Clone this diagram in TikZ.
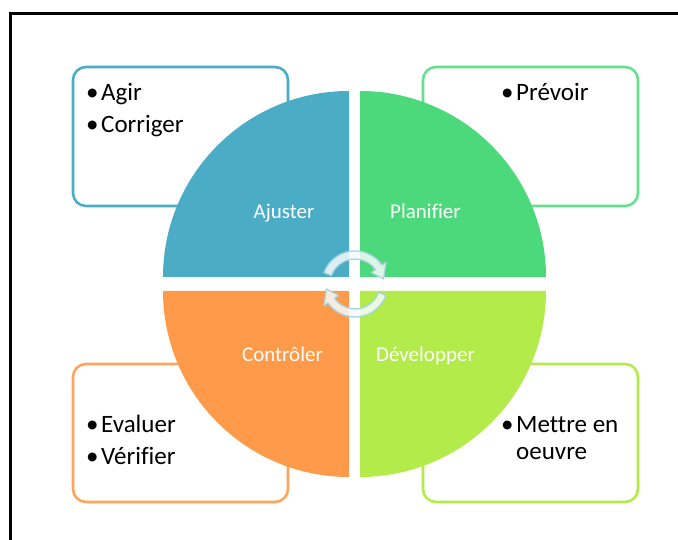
\documentclass[tikz,border=0pt]{standalone}
\usepackage{fontspec}
\setmainfont{Carlito}[Ligatures=NoCommon]
\usetikzlibrary{calc}
\definecolor{ajblue}{HTML}{4BACC6}
\definecolor{plgreen}{HTML}{4CD97B}
\definecolor{coorange}{HTML}{FF9A4A}
\definecolor{delime}{HTML}{B2EB4A}
\definecolor{cyclefill}{HTML}{F6FBFD}
\definecolor{cycleline}{HTML}{A8D4E2}
\newcommand{\puce}{\makebox[15pt][l]{•}}

\begin{document}
\begin{tikzpicture}[x=1pt, y=1pt,
    box/.style={draw=#1, line width=2.6pt, rounded corners=13pt, fill=white},
    quad/.style={anchor=base, text=white, font=\fontsize{21}{25}\selectfont},
    item/.style={anchor=base west, inner sep=0pt, text=black, font=\fontsize{25}{29}\selectfont}]
    \clip (0,0) rectangle (678,540);
    \fill[white] (0,0) rectangle (678,540);
    % outer frame
    \draw[line width=2.7pt] (690,526.5) -- (10.5,526.5) -- (10.5,-10);
    % boxes
    \draw[box=ajblue] (73,473) rectangle (288,334);
    \draw[box=plgreen!85!white] (423,473) rectangle (638,334);
    \draw[box=coorange!90!white] (73,176) rectangle (288,38);
    \draw[box=delime] (423,176) rectangle (638,38);
    % quadrants
    \fill[ajblue] (349,263) -- (163,263) arc[start angle=180, end angle=90, radius=186] -- cycle;
    \fill[plgreen] (360,263) -- (546,263) arc[start angle=0, end angle=90, radius=186] -- cycle;
    \fill[coorange] (349,249) -- (163,249) arc[start angle=180, end angle=270, radius=186] -- cycle;
    \fill[delime] (360,249) -- (546,249) arc[start angle=0, end angle=-90, radius=186] -- cycle;
    \node[quad] (ajuster) at (284,321) {Ajuster};
    \node[quad] (planifier) at (425.5,321) {Planifier};
    \node[quad] (controler) at (282.5,178) {Contrôler};
    \node[quad] (developper) at (425.5,178) {Développer};
    % cycle arrows
    \begin{scope}[shift={(355,256)}]
      \foreach \rot in {0,180}
        \filldraw[rotate=\rot, fill=cyclefill, fill opacity=0.85, draw=cycleline, line width=1.3pt, line join=round]
          (160:33) arc[start angle=160, end angle=35, radius=33] -- (35:38) -- (10:29) -- (35:20)
          -- (35:25) arc[start angle=35, end angle=160, radius=25] -- cycle;
    \end{scope}
    % bullet texts
    \node[item] (agir) at (86,439) {\puce Agir};
    \node[item] (corriger) at (86,407) {\puce Corriger};
    \node[item] (prevoir) at (501,439) {\puce Prévoir};
    \node[item] (evaluer) at (86,107) {\puce Evaluer};
    \node[item] (verifier) at (86,75) {\puce Vérifier};
    \node[item] (mettre) at (501,107) {\puce Mettre en};
    \node[item] (oeuvre) at ($(mettre.base west)+(15,-27)$) {oeuvre};
\end{tikzpicture}
\end{document}
